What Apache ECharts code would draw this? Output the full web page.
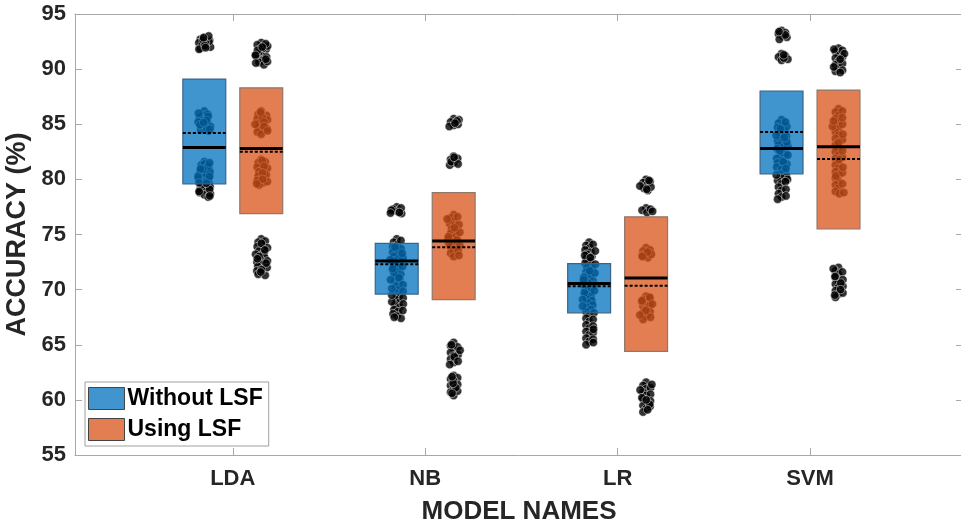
<!DOCTYPE html>
<html>
<head>
<meta charset="utf-8">
<script src="https://cdn.jsdelivr.net/npm/echarts@6/dist/echarts.min.js"></script>
<style>html,body{margin:0;padding:0;background:#fff}#c{width:961px;height:526px}</style>
</head>
<body>
<div id="c"></div>
<script>
// ---------- DATA ----------
const models = ['LDA', 'NB', 'LR', 'SVM'];
const seriesNames = ['Without LSF', 'Using LSF'];
const yTickValues = [55, 60, 65, 70, 75, 80, 85, 90, 95];

// box statistics (lower edge, upper edge, median, mean)
const withoutQ1 = [79.6, 69.6, 67.9, 80.5];
const withoutQ3 = [89.1, 74.2, 72.35, 88.0];
const withoutMedian = [82.9, 72.6, 70.55, 82.8];
const withoutMean = [84.2, 72.3, 70.3, 84.3];
const usingQ1 = [76.9, 69.1, 64.4, 75.5];
const usingQ3 = [88.3, 78.8, 76.6, 88.1];
const usingMedian = [82.8, 74.4, 71.05, 82.95];
const usingMean = [82.5, 73.85, 70.35, 81.85];

// individual accuracy points
const ldaWithout = [92.9, 92.7, 92.5, 92.3, 92.1, 91.9, 92.6, 92.4, 92.0, 92.8, 92.2, 91.8, 92.5, 93.0,
  92.35, 92.65, 92.15, 92.85, 91.95,
  86.2, 85.8, 85.5, 85.3, 85.1, 84.9, 84.7, 84.5, 84.4, 85.6, 85.0, 84.8, 85.4, 84.6, 85.9, 85.2,
  85.7, 85.35, 84.95, 84.55, 86.0, 85.15,
  81.6, 81.3, 81.0, 80.8, 80.6, 80.4, 80.2, 80.0, 79.8, 79.6, 79.4, 79.2, 79.0, 78.8, 78.6, 78.4,
  81.1, 80.5, 79.9, 79.3, 78.7, 80.7, 80.1, 79.5,
  81.4, 81.2, 80.9, 80.3, 79.7, 79.1, 78.5, 80.95, 80.25, 79.65, 78.9, 81.5];
const nbWithout = [77.5, 77.3, 77.1, 76.9, 77.4, 77.0, 77.2, 76.95,
  74.6, 74.3, 74.1, 73.9, 73.6, 73.4, 73.2, 73.0, 72.8, 72.6, 72.4, 72.2, 72.0, 71.8, 71.6, 71.4,
  71.2, 71.0, 70.8, 70.6, 70.3, 70.0, 69.7, 69.4, 69.1, 68.8, 68.6, 68.4, 68.2, 68.0, 67.8, 67.6,
  67.4, 68.9, 69.5, 70.1, 72.9, 73.7,
  74.45, 73.85, 73.3, 72.7, 72.1, 71.5, 70.9, 70.45, 69.85, 69.25, 68.7, 68.1, 67.5, 71.9, 71.1];
const lrWithout = [74.3, 74.0, 73.8, 73.6, 73.4, 73.2, 73.0, 72.8, 72.6, 72.4, 72.2, 72.0, 71.8,
  71.6, 71.4, 71.2, 71.0, 70.8, 70.6, 70.4, 70.2, 70.0, 69.8, 69.6, 69.4, 69.2, 69.0, 68.8, 68.6,
  68.4, 68.2, 68.0, 67.7, 67.4, 67.1, 66.8, 66.5, 66.2, 65.9, 65.6, 65.3, 65.0, 71.5, 70.7, 69.9, 73.1,
  74.1, 73.5, 72.9, 72.3, 71.7, 71.1, 70.5, 69.7, 69.1, 68.5, 67.9, 67.3, 66.7, 66.1, 65.5, 65.2, 66.4, 70.9];
const svmWithout = [93.5, 93.2, 93.0, 92.7, 93.3, 92.9, 93.1, 93.4,
  91.4, 91.1, 90.8, 91.2, 90.9, 91.0, 91.3,
  85.4, 85.1, 84.9, 84.7, 84.5, 84.3, 84.1, 83.9, 83.7, 83.5, 83.3, 83.1, 82.9, 82.7, 82.5, 82.3,
  82.1, 81.9, 81.7, 81.5, 81.3, 81.1, 80.9, 80.7, 80.5, 80.3, 80.1, 79.9, 79.6, 79.3, 79.0, 78.7,
  78.4, 78.2, 84.8, 83.0, 81.4, 80.0,
  85.2, 84.6, 84.0, 83.4, 82.8, 82.2, 81.6, 81.0, 80.4, 79.8, 79.1, 78.5, 83.8, 82.6];
const ldaUsing = [92.4, 92.2, 92.0, 91.8, 91.6, 91.4, 91.2, 91.0, 90.8, 90.6, 90.4, 91.9, 91.5, 91.1, 90.7, 92.1, 91.3,
  92.3, 91.7, 91.25, 90.9, 90.55, 92.0,
  86.2, 85.9, 85.7, 85.5, 85.3, 85.1, 84.9, 84.7, 84.5, 84.3, 84.1, 85.8, 85.4, 85.0, 84.6, 86.0,
  85.6, 85.2, 84.8, 84.4, 86.1,
  81.8, 81.5, 81.3, 81.1, 80.9, 80.7, 80.5, 80.3, 80.1, 79.9, 79.7, 79.5, 81.6, 81.0, 80.4, 79.8,
  81.7, 81.2, 80.6, 80.0, 79.6,
  74.6, 74.3, 74.1, 73.9, 73.7, 73.5, 73.3, 73.1, 72.9, 72.7, 72.5, 72.3, 72.1, 71.9, 71.7, 71.5,
  71.3, 74.4, 73.8, 73.2, 72.6, 72.0, 71.4,
  74.2, 73.6, 73.0, 72.4, 71.8, 71.6, 72.8];
const nbUsing = [85.5, 85.2, 84.9, 85.0, 85.4, 84.8, 85.3, 85.1,
  82.1, 81.8, 81.5, 81.3, 81.9, 81.6, 81.4, 82.0,
  76.8, 76.5, 76.2, 76.0, 75.8, 75.5, 75.3, 75.1, 74.9, 74.7, 74.5, 74.3, 74.1, 73.9, 73.6, 73.3,
  73.0, 76.6, 75.9, 75.2, 74.6, 74.0, 76.4, 75.6, 74.8, 74.2, 73.5, 73.1,
  65.2, 64.9, 64.6, 64.3, 64.0, 63.7, 63.4, 63.2, 64.8, 64.1, 64.5, 63.9, 63.5, 65.0,
  62.2, 61.9, 61.6, 61.3, 61.0, 60.7, 60.4, 62.0, 61.4, 60.8, 61.8, 61.1, 60.6, 61.5, 62.1];
const lrUsing = [80.0, 79.7, 79.5, 79.2, 79.0, 79.8, 79.3, 79.9, 79.4, 79.1,
  77.4, 77.2, 77.0, 77.3, 77.1,
  73.8, 73.5, 73.3, 73.1, 72.9, 73.6, 73.2, 73.4, 73.0,
  69.4, 69.1, 68.8, 68.5, 68.2, 67.9, 67.6, 67.3, 69.2, 68.6, 68.0, 67.5, 68.9, 69.3, 68.7, 68.1, 67.7, 69.0,
  61.6, 61.3, 61.0, 60.7, 60.4, 60.1, 59.8, 59.5, 59.2, 58.9, 61.1, 60.5, 59.9, 59.4,
  61.4, 60.9, 60.2, 59.6, 59.1, 60.0];
const svmUsing = [91.9, 91.6, 91.3, 91.0, 90.7, 90.4, 90.1, 89.8, 91.7, 91.1, 90.5, 89.9,
  91.8, 91.4, 90.9, 90.2, 89.7,
  86.4, 86.1, 85.8, 85.5, 85.2, 84.9, 84.6, 84.3, 84.0, 83.7, 83.4, 83.1, 82.8, 82.5, 82.2, 81.9,
  81.6, 81.3, 81.0, 80.7, 80.4, 80.1, 79.8, 79.5, 79.2, 78.9, 78.7, 85.0, 83.6, 82.0, 80.6,
  86.2, 85.6, 84.8, 84.1, 83.3, 82.6, 81.8, 81.1, 80.3, 79.6, 78.8, 85.3,
  72.0, 71.7, 71.4, 71.1, 70.8, 70.5, 70.2, 69.9, 69.6, 69.3, 71.6, 70.9, 70.3, 69.7,
  71.9, 71.2, 70.6, 70.0, 69.5];

const withoutPoints = [ldaWithout, nbWithout, lrWithout, svmWithout];
const usingPoints = [ldaUsing, nbUsing, lrUsing, svmUsing];

// ---------- LAYOUT / STYLE ----------
const plotLeft = 75, plotRightPx = 963, plotTop = 14, plotBottomPx = 455;
const W = 961, H = 526;
const xMin = 0.18, xMax = 4.795;
const groupOffset = 0.148, boxWidth = 0.223;
const pxPerUnit = (plotRightPx - plotLeft) / (xMax - xMin);
const axisGray = '#a8a8a8', textCol = '#262626';
const FONT = '"Liberation Sans", Arial, Helvetica, sans-serif';

function pointGrid(offset) {
  // hidden grid whose category centres sit at model + offset
  const firstCenter = plotLeft + (1 + offset - xMin) * pxPerUnit;
  const width = pxPerUnit * models.length;
  const left = firstCenter - pxPerUnit / 2;
  return { left: left, width: width, top: plotTop, bottom: H - plotBottomPx, outerBoundsMode: 'none' };
}

const boxFill = ['rgba(0,114,189,0.75)', 'rgba(217,83,25,0.75)'];
const boxEdge = ['#3a6588', '#8e786c'];
const legendFill = ['#4095ce', '#e37e53'];

function boxData(q1, q3, med, mean) {
  return models.map((m, i) => [i + 1, q1[i], q3[i], med[i], mean[i]]);
}

function makeBoxSeries(name, idx, data, offset) {
  return {
    name: name,
    type: 'custom',
    xAxisIndex: 0, yAxisIndex: 0,
    z: 5,
    silent: true,
    itemStyle: { color: legendFill[idx] },
    encode: { x: 0, y: [1, 2] },
    data: data,
    renderItem: function (params, api) {
      const x = api.value(0) + offset;
      const q1 = api.value(1), q3 = api.value(2), med = api.value(3), mean = api.value(4);
      const tl = api.coord([x - boxWidth / 2, q3]);
      const br = api.coord([x + boxWidth / 2, q1]);
      const m1 = api.coord([x - boxWidth / 2, med]);
      const m2 = api.coord([x + boxWidth / 2, med]);
      const a1 = api.coord([x - boxWidth / 2, mean]);
      const a2 = api.coord([x + boxWidth / 2, mean]);
      return {
        type: 'group',
        children: [
          { type: 'rect', shape: { x: tl[0], y: tl[1], width: br[0] - tl[0], height: br[1] - tl[1] },
            style: { fill: boxFill[idx], stroke: boxEdge[idx], lineWidth: 1.2 } },
          { type: 'line', shape: { x1: a1[0], y1: a1[1], x2: a2[0], y2: a2[1] },
            style: { stroke: '#000', lineWidth: 2, lineDash: [3, 2] } },
          { type: 'line', shape: { x1: m1[0], y1: m1[1], x2: m2[0], y2: m2[1] },
            style: { stroke: '#000', lineWidth: 3 } }
        ]
      };
    }
  };
}

function pointData(groups) {
  const out = [];
  groups.forEach((vals, i) => vals.forEach(v => out.push([models[i], v])));
  return out;
}

function makePointSeries(axisIdx, groups) {
  return {
    type: 'scatter',
    xAxisIndex: axisIdx, yAxisIndex: axisIdx,
    z: 2,
    silent: true,
    symbol: 'circle',
    symbolSize: 8.5,
    itemStyle: { color: '#000', borderColor: '#ffffff', borderWidth: 0.6 },
    data: pointData(groups)
  };
}

const mainXAxisCommon = {
  type: 'value', min: xMin, max: xMax, gridIndex: 0,
  splitLine: { show: false },
  axisLine: { show: true, lineStyle: { color: axisGray, width: 1 } }
};
const tickPositions = models.map((m, i) => i + 1);

const chart = echarts.init(document.getElementById('c'), null, { renderer: 'canvas' });
chart.setOption({
  backgroundColor: '#fff',
  animation: false,
  grid: [
    { left: plotLeft, right: W - plotRightPx, top: plotTop, bottom: H - plotBottomPx, outerBoundsMode: 'none' },
    pointGrid(-groupOffset),
    pointGrid(groupOffset)
  ],
  xAxis: [
    Object.assign({}, mainXAxisCommon, {
      position: 'bottom',
      axisTick: { show: true, inside: true, length: 7, customValues: tickPositions, lineStyle: { color: axisGray } },
      axisLabel: { show: true, customValues: tickPositions, margin: 13,
        formatter: v => models[Math.round(v) - 1],
        color: textCol, fontFamily: FONT, fontWeight: 'bold', fontSize: 22 },
      name: 'MODEL NAMES', nameLocation: 'middle', nameGap: 44,
      nameTextStyle: { color: textCol, fontFamily: FONT, fontWeight: 'bold', fontSize: 26 }
    }),
    Object.assign({}, mainXAxisCommon, {
      position: 'top',
      axisTick: { show: true, inside: true, length: 7, customValues: tickPositions, lineStyle: { color: axisGray } },
      axisLabel: { show: false }
    }),
    { type: 'category', gridIndex: 1, data: models, show: false, boundaryGap: true,
      jitter: 13, jitterOverlap: false, jitterMargin: -4 },
    { type: 'category', gridIndex: 2, data: models, show: false, boundaryGap: true,
      jitter: 13, jitterOverlap: false, jitterMargin: -4 }
  ],
  yAxis: [
    { type: 'value', gridIndex: 0, min: 55, max: 95, interval: 5, position: 'left',
      splitLine: { show: false },
      axisLine: { show: true, lineStyle: { color: axisGray } },
      axisTick: { show: true, inside: true, length: 7, lineStyle: { color: axisGray } },
      axisLabel: { color: textCol, fontFamily: FONT, fontWeight: 'bold', fontSize: 22, margin: 9,
        customValues: yTickValues },
      name: 'ACCURACY (%)', nameLocation: 'middle', nameGap: 34,
      nameTextStyle: { color: textCol, fontFamily: FONT, fontWeight: 'bold', fontSize: 27 } },
    { type: 'value', gridIndex: 0, min: 55, max: 95, interval: 5, position: 'right',
      splitLine: { show: false },
      axisLine: { show: true, lineStyle: { color: axisGray } },
      axisTick: { show: true, inside: true, length: 7, lineStyle: { color: axisGray } },
      axisLabel: { show: false } },
    { type: 'value', gridIndex: 1, min: 55, max: 95, show: false },
    { type: 'value', gridIndex: 2, min: 55, max: 95, show: false }
  ],
  legend: {
    left: 85, top: 382,
    orient: 'vertical',
    selectedMode: false,
    backgroundColor: '#fff',
    borderColor: '#a0a0a0', borderWidth: 1,
    padding: [5, 6, 5, 3],
    itemGap: 8,
    itemWidth: 36, itemHeight: 22,
    icon: 'rect',
    textStyle: { color: '#000', fontFamily: FONT, fontWeight: 'bold', fontSize: 23, lineHeight: 22, padding: [0, 0, 0, -2] },
    data: seriesNames.map((n, i) => ({ name: n, icon: 'rect',
      itemStyle: { color: legendFill[i], borderColor: '#444', borderWidth: 1 } }))
  },
  series: [
    makePointSeries(2, withoutPoints),
    makePointSeries(3, usingPoints),
    makeBoxSeries(seriesNames[0], 0, boxData(withoutQ1, withoutQ3, withoutMedian, withoutMean), -groupOffset),
    makeBoxSeries(seriesNames[1], 1, boxData(usingQ1, usingQ3, usingMedian, usingMean), groupOffset)
  ]
});
</script>
</body>
</html>
